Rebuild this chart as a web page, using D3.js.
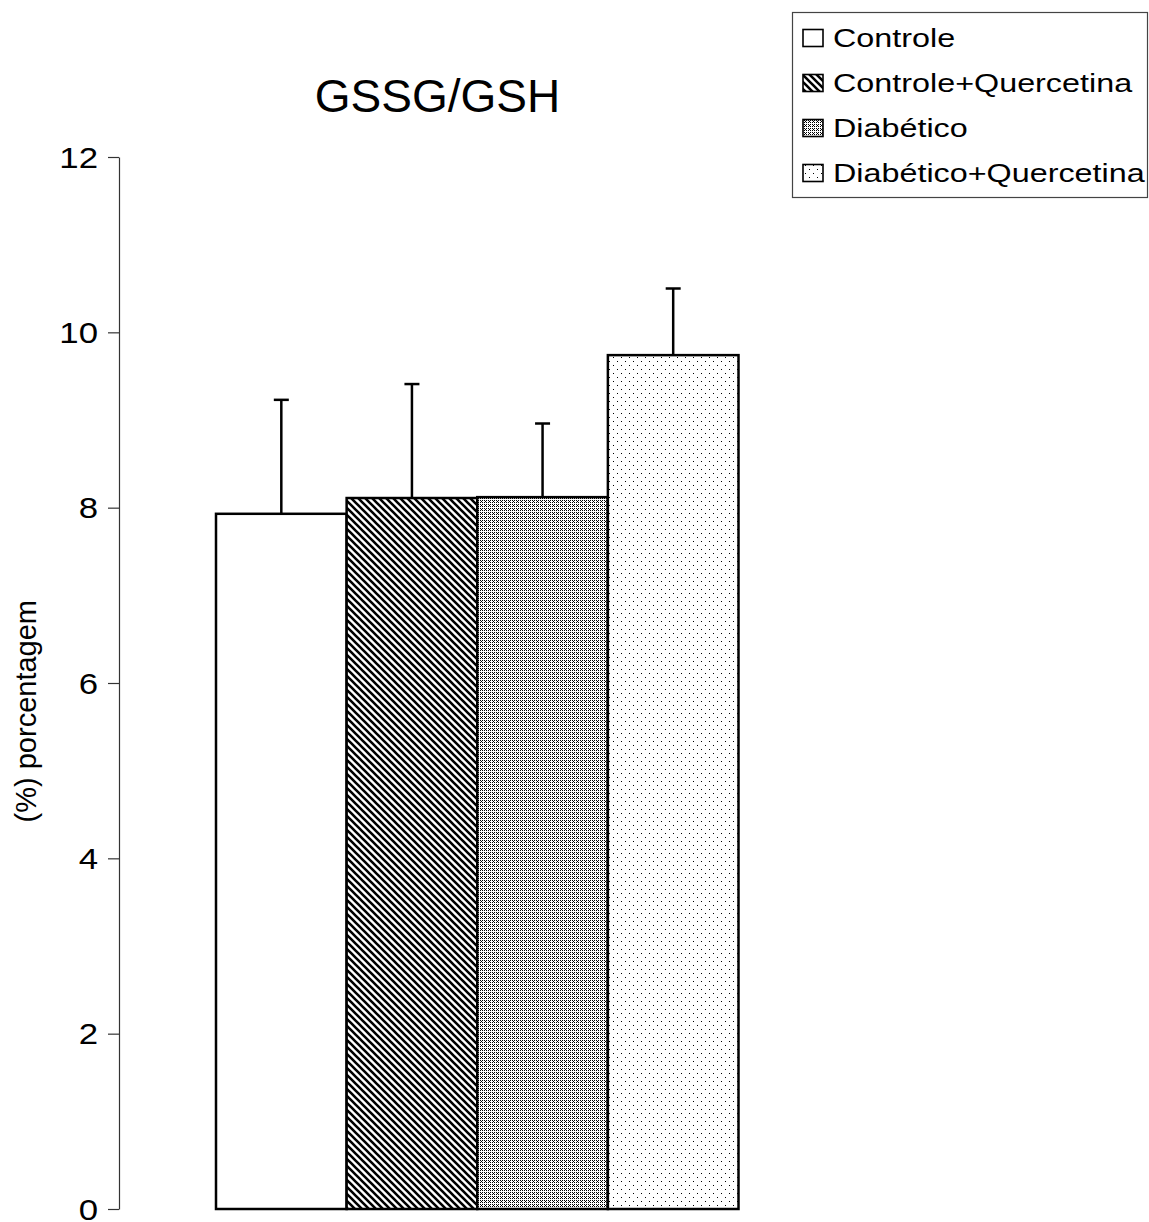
<!DOCTYPE html>
<html>
<head>
<meta charset="utf-8">
<script src="https://cdn.jsdelivr.net/npm/d3@7"></script>
<style>
  html, body { margin: 0; padding: 0; background: #fff; }
  svg { display: block; }
  text { font-family: "Liberation Sans", Arial, sans-serif; fill: #000; }
</style>
</head>
<body>
<svg id="chart" width="1149" height="1222"></svg>
<script>
// ---- data ----
const categories = ["Controle", "Controle+Quercetina", "Diabético", "Diabético+Quercetina"];
const values = [7.93, 8.11, 8.12, 9.74];
const errors = [1.30, 1.30, 0.84, 0.76];
const yTicks = [0, 2, 4, 6, 8, 10, 12];
const patternIds = ["pWhite", "pStripe", "pDense", "pSparse"];
const titleText = "GSSG/GSH";
const yLabel = "(%) porcentagem";

const svg = d3.select("#chart");
const defs = svg.append("defs");

// patterns
const pStripe = defs.append("pattern").attr("id", "pStripe")
  .attr("patternUnits", "userSpaceOnUse").attr("width", 7).attr("height", 7);
pStripe.append("rect").attr("width", 7).attr("height", 7).attr("fill", "#fff");
pStripe.append("path").attr("d", "M-1,-1 L8,8 M-4,3 L3,10 M4,-3 L11,4")
  .attr("stroke", "#000").attr("stroke-width", 2.6);

const pDense = defs.append("pattern").attr("id", "pDense")
  .attr("patternUnits", "userSpaceOnUse").attr("width", 4).attr("height", 4);
pDense.append("rect").attr("width", 4).attr("height", 4).attr("fill", "#fff");
[[0,0],[2,0],[1,1],[0,2],[2,2]].forEach(([a,b]) =>
  pDense.append("rect").attr("x", a).attr("y", b).attr("width", 1).attr("height", 1).attr("fill", "#000"));

const pSparse = defs.append("pattern").attr("id", "pSparse")
  .attr("patternUnits", "userSpaceOnUse").attr("width", 8).attr("height", 8);
pSparse.append("rect").attr("width", 8).attr("height", 8).attr("fill", "#fff");
[[1,1],[5,5]].forEach(([a,b]) =>
  pSparse.append("rect").attr("x", a).attr("y", b).attr("width", 1).attr("height", 1).attr("fill", "#000"));

function fillFor(i) { return i === 0 ? "#fff" : "url(#" + patternIds[i] + ")"; }

// scales
const x = d3.scaleBand().domain(categories).range([216, 738.5]).padding(0);
const y = d3.scaleLinear().domain([0, 12]).range([1209, 157]);

// axis
const axisX = 119;
const gAxis = svg.append("g").attr("transform", `translate(${axisX},0)`)
  .call(d3.axisLeft(y).tickValues(yTicks).tickSize(11).tickSizeOuter(0).tickFormat(d3.format("d")));
gAxis.select(".domain").attr("stroke", "#333").attr("stroke-width", 1.2);
gAxis.selectAll(".tick line").attr("stroke", "#333").attr("stroke-width", 1.2);
gAxis.selectAll(".tick text")
  .attr("x", 0).attr("dy", "0.35em")
  .attr("transform", "translate(-21,0) scale(1.2,1)")
  .style("font-size", "29px")
  .style("font-family", "'Liberation Sans', Arial, sans-serif")
  .attr("fill", "#000");

// bars
const data = categories.map((c, i) => ({ c, v: values[i], e: errors[i], i }));
svg.append("g").selectAll("rect").data(data).join("rect")
  .attr("x", d => x(d.c))
  .attr("y", d => y(d.v))
  .attr("width", x.bandwidth())
  .attr("height", d => y(0) - y(d.v))
  .attr("fill", d => fillFor(d.i))
  .attr("stroke", "#000").attr("stroke-width", 2.5);

// error bars
const gErr = svg.append("g").attr("stroke", "#000").attr("stroke-width", 2.5);
gErr.selectAll("line.v").data(data).join("line").attr("class", "v")
  .attr("x1", d => x(d.c) + x.bandwidth() / 2).attr("x2", d => x(d.c) + x.bandwidth() / 2)
  .attr("y1", d => y(d.v)).attr("y2", d => y(d.v + d.e));
gErr.selectAll("line.cap").data(data).join("line").attr("class", "cap")
  .attr("x1", d => x(d.c) + x.bandwidth() / 2 - 7.5).attr("x2", d => x(d.c) + x.bandwidth() / 2 + 7.5)
  .attr("y1", d => y(d.v + d.e)).attr("y2", d => y(d.v + d.e));

// title
svg.append("text").attr("x", 437.5).attr("y", 112)
  .attr("text-anchor", "middle").style("font-size", "46px").text(titleText);

// y label
svg.append("text")
  .attr("transform", "translate(36,600) rotate(-90)")
  .attr("text-anchor", "end").style("font-size", "29px").text(yLabel);

// legend
const lg = svg.append("g");
lg.append("rect").attr("x", 792.5).attr("y", 12.5).attr("width", 355).attr("height", 185)
  .attr("fill", "#fff").attr("stroke", "#444").attr("stroke-width", 1.2);
const rowY = [38, 83, 128, 173];
categories.forEach((c, i) => {
  lg.append("rect").attr("x", 803).attr("y", rowY[i] - 8.5).attr("width", 20).attr("height", 17)
    .attr("fill", fillFor(i)).attr("stroke", "#000").attr("stroke-width", 1.6);
  lg.append("text")
    .attr("transform", `translate(833,${rowY[i] + 9}) scale(1.22,1)`)
    .style("font-size", "26.5px").text(c);
});
</script>
</body>
</html>
